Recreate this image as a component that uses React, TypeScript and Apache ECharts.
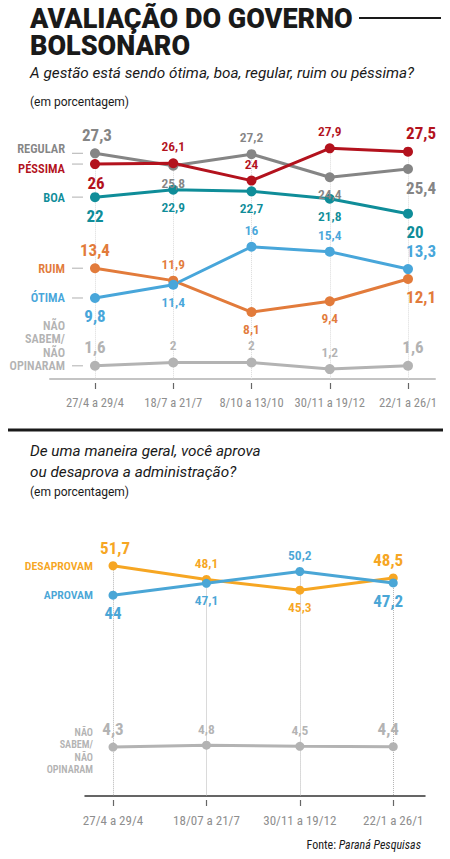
import React, { useEffect, useRef } from "react";
import * as echarts from "echarts";

// ---------- data ----------
const cats1 = ["27/4 a 29/4", "18/7 a 21/7", "8/10 a 13/10", "30/11 a 19/12", "22/1 a 26/1"];
const regular = [27.3, 25.8, 27.2, 24.4, 25.4];
const pessima = [26, 26.1, 24, 27.9, 27.5];
const boa = [22, 22.9, 22.7, 21.8, 20];
const ruim = [13.4, 11.9, 8.1, 9.4, 12.1];
const otima = [9.8, 11.4, 16, 15.4, 13.3];
const naoSabem1 = [1.6, 2, 2, 1.2, 1.6];

const cats2 = ["27/4 a 29/4", "18/07 a 21/7", "30/11 a 19/12", "22/1 a 26/1"];
const desaprovam = [51.7, 48.1, 45.3, 48.5];
const aprovam = [44, 47.1, 50.2, 47.2];
const naoSabem2 = [4.3, 4.8, 4.5, 4.4];

// ---------- style ----------
const LABEL_FONT = "'Liberation Sans Narrow', 'Roboto Condensed', Roboto, sans-serif";
const TEXT_FONT = "Roboto, 'Liberation Sans', sans-serif";
const NSNO_NAME = "NÃO\nSABEM/\nNÃO\nOPINARAM";

type Cfg = {
  name: string;
  values: number[];
  color: string;
  sides: string[];
  lastDx: number;
  firstDx: number;
  nameDy: number;
  nameSize: number;
  multi?: boolean;
};

const chart1: Cfg[] = [
  { name: "REGULAR", values: regular, color: "#858585", sides: ["top", "bottom", "top", "bottom", "bottom"], lastDx: 13, firstDx: 2, nameDy: -5, nameSize: 12.5 },
  { name: "PÉSSIMA", values: pessima, color: "#b3121d", sides: ["bottom", "top", "top", "top", "top"], lastDx: 13, firstDx: 1, nameDy: 4, nameSize: 12.5 },
  { name: "BOA", values: boa, color: "#0f8d99", sides: ["bottom", "bottom", "bottom", "bottom", "bottom"], lastDx: 7, firstDx: 0, nameDy: 0, nameSize: 12.5 },
  { name: "RUIM", values: ruim, color: "#e27b3b", sides: ["top", "top", "bottom", "bottom", "bottom"], lastDx: 13, firstDx: 0, nameDy: 0, nameSize: 12.5 },
  { name: "ÓTIMA", values: otima, color: "#48a6da", sides: ["bottom", "bottom", "top", "top", "top"], lastDx: 13, firstDx: 0, nameDy: 0, nameSize: 12.5 },
  { name: NSNO_NAME, values: naoSabem1, color: "#b3b3b3", sides: ["top", "top", "top", "top", "top"], lastDx: 5, firstDx: 0, nameDy: 0, nameSize: 12.2, multi: true },
];

const chart2: Cfg[] = [
  { name: "DESAPROVAM", values: desaprovam, color: "#f6a623", sides: ["top", "top", "bottom", "top"], lastDx: -5, firstDx: 2, nameDy: 0, nameSize: 11.8 },
  { name: "APROVAM", values: aprovam, color: "#4aa6d6", sides: ["bottom", "bottom", "top", "bottom"], lastDx: -5, firstDx: 0, nameDy: 0, nameSize: 11.8 },
  { name: NSNO_NAME, values: naoSabem2, color: "#b3b3b3", sides: ["top", "top", "top", "top"], lastDx: -5, firstDx: 0, nameDy: 0, nameSize: 10.2, multi: true },
];

const fmt = (v: number) => String(v).replace(".", ",");

function buildSeries(cfg: Cfg, axisIdx: number, symbolSize: number) {
  const n = cfg.values.length;
  return {
    type: "line",
    name: cfg.name,
    xAxisIndex: axisIdx * 2,
    yAxisIndex: axisIdx,
    symbol: "circle",
    symbolSize,
    lineStyle: { color: cfg.color, width: 3 },
    itemStyle: { color: cfg.color },
    z: 5,
    label: {
      show: true,
      color: cfg.color,
      fontFamily: LABEL_FONT,
      formatter: (p: any) => fmt(p.value[1]),
    },
    data: cfg.values.map((v, i) => {
      const big = i === 0 || i === n - 1;
      return {
        value: [i, v],
        label: {
          position: cfg.sides[i],
          fontSize: big ? 17 : 13.5,
          fontWeight: big ? "bold" : 600,
          offset: [i === n - 1 ? cfg.lastDx : i === 0 ? cfg.firstDx : 0, 0],
        },
      };
    }),
  };
}

function gridLines(cfgs: Cfg[], axisIdx: number, bottom: number, color: string) {
  const n = cfgs[0].values.length;
  const lines: any[] = [];
  for (let i = 0; i < n; i++) {
    const top = Math.max(...cfgs.map((c) => c.values[i]));
    lines.push([{ coord: [i, top] }, { coord: [i, bottom] }]);
  }
  return {
    type: "line",
    xAxisIndex: axisIdx * 2,
    yAxisIndex: axisIdx,
    data: [],
    z: 1,
    silent: true,
    markLine: {
      silent: true,
      symbol: ["none", "none"],
      label: { show: false },
      lineStyle: { type: "dotted", color, width: 1 },
      data: lines,
    },
  };
}

export default function App() {
  const ref = useRef<HTMLDivElement>(null);

  useEffect(() => {
    if (!ref.current) return;
    const chart = echarts.init(ref.current, undefined, { renderer: "svg" });

    const idx1 = cats1.map((_, i) => i);
    const idx2 = cats2.map((_, i) => i);

    const baseAxis = (grid: number, min: number, max: number) => ({
      type: "value",
      gridIndex: grid,
      position: "bottom",
      min,
      max,
      splitLine: { show: false },
      axisLabel: { show: false },
      axisTick: { show: false },
    });

    const series1 = chart1.map((c) => buildSeries(c, 0, 10));
    const series2 = chart2.map((c) => buildSeries(c, 1, 9));

    chart.setOption({
      animation: false,
      backgroundColor: "#ffffff",
      grid: [
        { left: 50, top: 131, width: 385, height: 248, outerBoundsMode: "none" },
        { left: 85, top: 534, width: 340, height: 262, outerBoundsMode: "none" },
      ],
      xAxis: [
        {
          ...baseAxis(0, -0.575, 4.345),
          axisLine: { show: true, onZero: false, lineStyle: { color: "#c4c4c4", width: 2 } },
        },
        {
          ...baseAxis(0, -0.575, 4.345),
          offset: 4,
          axisLine: { show: false, onZero: false },
          axisTick: { show: true, length: 6, customValues: idx1, lineStyle: { color: "#666", width: 1.2 } },
          axisLabel: {
            show: true,
            customValues: idx1,
            margin: 13,
            color: "#8e8e8e",
            fontSize: 12.5,
            fontFamily: LABEL_FONT,
            formatter: (v: number) => cats1[Math.round(v)] ?? "",
          },
        },
        {
          ...baseAxis(1, -0.3, 3.34),
          axisLine: { show: true, onZero: false, lineStyle: { color: "#333", width: 1.5 } },
        },
        {
          ...baseAxis(1, -0.3, 3.34),
          offset: 4,
          axisLine: { show: false, onZero: false },
          axisTick: { show: true, length: 6, customValues: idx2, lineStyle: { color: "#666", width: 1.2 } },
          axisLabel: {
            show: true,
            customValues: idx2,
            margin: 14,
            color: "#8e8e8e",
            fontSize: 13,
            fontFamily: LABEL_FONT,
            formatter: (v: number) => cats2[Math.round(v)] ?? "",
          },
        },
      ],
      yAxis: [
        { type: "value", gridIndex: 0, min: 0, max: 30, show: false },
        { type: "value", gridIndex: 1, min: -8.5, max: 60, show: false },
      ],
      series: [
        gridLines(chart1, 0, 0, "#dadada"),
        gridLines(chart2, 1, -8.5, "#b5b5b5"),
        ...series1,
        ...series2,
      ],
    });

    // series name labels, placed next to the first point of each series
    const names: any[] = [];
    chart1.forEach((c, k) => {
      const p = chart.convertToPixel({ seriesIndex: 2 + k }, [0, c.values[0]]) as number[];
      names.push({
        type: "line",
        shape: { x1: p[0] - 23, y1: p[1], x2: p[0] - 12, y2: p[1] },
        style: { stroke: "#bdbdbd", lineWidth: 1.2 },
      });
      names.push({
        type: "text",
        x: p[0] - 30,
        y: c.multi ? p[1] + 7 : p[1] + c.nameDy,
        style: {
          text: c.name,
          fill: c.color,
          align: "right",
          verticalAlign: c.multi ? "bottom" : "middle",
          font: `600 ${c.nameSize}px ${LABEL_FONT}`,
          lineHeight: 13.5,
        },
      });
    });
    chart2.forEach((c, k) => {
      const p = chart.convertToPixel({ seriesIndex: 2 + chart1.length + k }, [0, c.values[0]]) as number[];
      names.push({
        type: "text",
        x: p[0] - 20,
        y: c.multi ? p[1] + 4 : p[1] + c.nameDy,
        style: {
          text: c.name,
          fill: c.color,
          align: "right",
          verticalAlign: "middle",
          font: `600 ${c.nameSize}px ${LABEL_FONT}`,
          lineHeight: 12.3,
        },
      });
    });

    chart.setOption({
      graphic: [
        {
          type: "text",
          x: 30,
          y: 5,
          style: {
            text: "AVALIAÇÃO DO GOVERNO\nBOLSONARO",
            fill: "#1a1a1a",
            font: `900 27px ${TEXT_FONT}`,
            lineHeight: 27.5,
            verticalAlign: "top",
          },
        },
        { type: "line", shape: { x1: 359, y1: 18, x2: 441, y2: 18 }, style: { stroke: "#1a1a1a", lineWidth: 2 } },
        {
          type: "text",
          x: 30,
          y: 73,
          style: {
            text: "A gestão está sendo ótima, boa, regular, ruim ou péssima?",
            fill: "#1a1a1a",
            font: `italic 400 15.3px ${TEXT_FONT}`,
            verticalAlign: "middle",
          },
        },
        {
          type: "text",
          x: 30,
          y: 102,
          style: { text: "(em porcentagem)", fill: "#1a1a1a", font: `400 12px ${TEXT_FONT}`, verticalAlign: "middle" },
        },
        { type: "rect", shape: { x: 8, y: 428.5, width: 435, height: 3 }, style: { fill: "#1a1a1a" } },
        {
          type: "text",
          x: 30,
          y: 440,
          style: {
            text: "De uma maneira geral, você aprova\nou desaprova a administração?",
            fill: "#1a1a1a",
            font: `italic 400 15.3px ${TEXT_FONT}`,
            lineHeight: 21,
            verticalAlign: "top",
          },
        },
        {
          type: "text",
          x: 30,
          y: 492,
          style: { text: "(em porcentagem)", fill: "#1a1a1a", font: `400 12px ${TEXT_FONT}`, verticalAlign: "middle" },
        },
        {
          type: "text",
          x: 421,
          y: 845,
          style: {
            text: "{a|Fonte: }{b|Paraná Pesquisas}",
            align: "right",
            verticalAlign: "middle",
            rich: {
              a: { fill: "#1a1a1a", font: `400 12px ${LABEL_FONT}` },
              b: { fill: "#1a1a1a", font: `italic 400 12px ${LABEL_FONT}` },
            },
          },
        },
        ...names,
      ],
    });

    return () => chart.dispose();
  }, []);

  return (
    <div
      ref={ref}
      style={{ position: "absolute", left: 0, top: 0, width: 450, height: 859, background: "#fff" }}
    />
  );
}
